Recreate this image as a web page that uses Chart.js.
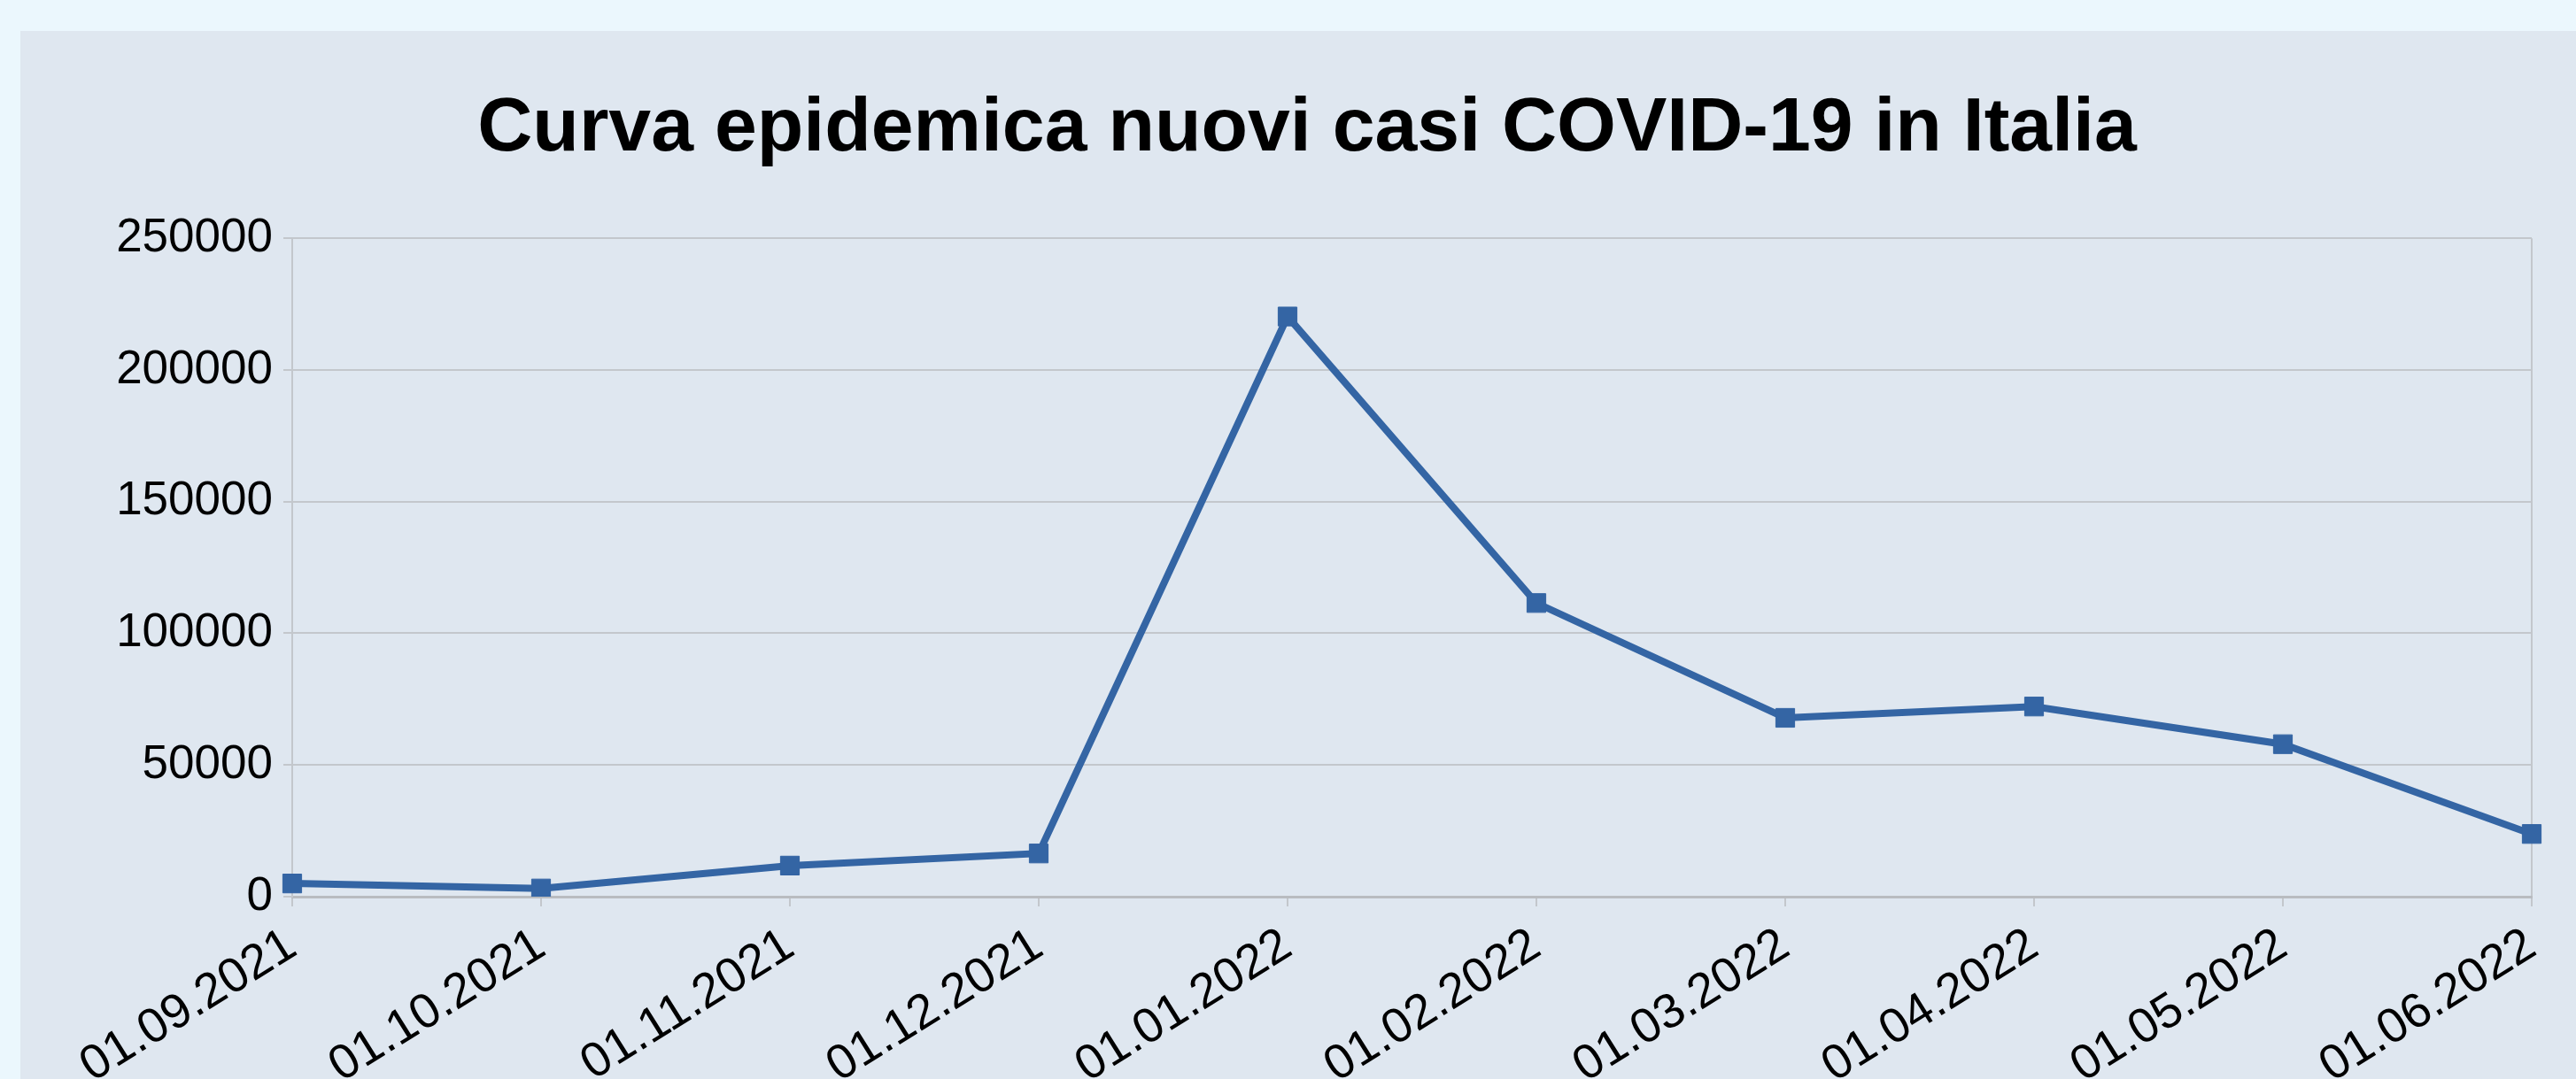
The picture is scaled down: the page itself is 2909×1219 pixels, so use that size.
<!DOCTYPE html>
<html>
<head>
<meta charset="utf-8">
<script src="https://cdn.jsdelivr.net/npm/chart.js@4"></script>
<style>
  html, body { margin: 0; padding: 0; background: #ebf7fd; }
  #panel { position: absolute; left: 23px; top: 35px; right: 0; bottom: 0; background: #dfe7f0; }
  #wrap { position: absolute; left: 0; top: 0; width: 2909px; height: 1219px; }
</style>
</head>
<body>
<div id="panel"></div>
<div id="wrap"><canvas id="chart"></canvas></div>
<script>
        const dates = ['01.09.2021', '01.10.2021', '01.11.2021', '01.12.2021', '01.01.2022',
                       '01.02.2022', '01.03.2022', '01.04.2022', '01.05.2022', '01.06.2022'];
        const newCases = [5000, 3100, 11800, 16400, 220300, 111500, 67900, 72200, 57900, 23800];
        const yTicks = [0, 50000, 100000, 150000, 200000, 250000];

        const gridGrey = '#c3c7cc';
        const lineBlue = '#3465a4';

        Chart.defaults.font.family = '"Liberation Sans", Arial, sans-serif';
        Chart.defaults.color = '#000';

        const ctx = document.getElementById('chart').getContext('2d');

        new Chart(ctx, {
            type: 'line',
            data: {
                labels: dates,
                datasets: [{
                    label: 'Nuovi casi',
                    data: newCases,
                    borderColor: lineBlue,
                    backgroundColor: lineBlue,
                    borderWidth: 8,
                    pointStyle: 'rect',
                    pointRadius: 15,
                    pointBorderWidth: 1,
                    pointBackgroundColor: lineBlue,
                    pointBorderColor: lineBlue,
                    tension: 0
                }]
            },
            options: {
                responsive: true,
                maintainAspectRatio: false,
                animation: false,
                layout: { padding: { left: 93, right: 50, top: 0, bottom: 0 } },
                plugins: {
                    legend: { display: false },
                    tooltip: { enabled: false },
                    title: {
                        display: true,
                        text: 'Curva epidemica nuovi casi COVID-19 in Italia',
                        color: '#000',
                        font: { size: 86, weight: 'bold' },
                        padding: { top: 95, bottom: 71 }
                    }
                },
                scales: {
                    x: {
                        grid: {
                            color: c => (c.index === dates.length - 1 ? gridGrey : 'transparent'),
                            tickColor: gridGrey,
                            tickLength: 11,
                            lineWidth: 2
                        },
                        border: { color: '#b9bcc0', width: 3 },
                        ticks: {
                            font: { size: 55 },
                            minRotation: 32,
                            maxRotation: 32,
                            autoSkip: false,
                            padding: 12
                        },
                        afterFit: s => { s.height = 206; }
                    },
                    y: {
                        min: 0,
                        max: 250000,
                        afterBuildTicks: s => { s.ticks = yTicks.map(v => ({ value: v })); },
                        grid: { color: gridGrey, lineWidth: 2, tickLength: 10 },
                        border: { color: gridGrey, width: 2 },
                        ticks: {
                            font: { size: 53 },
                            padding: 12,
                            callback: v => String(v)
                        },
                        afterFit: s => { s.width = 237; }
                    }
                }
            }
        });
</script>
</body>
</html>
